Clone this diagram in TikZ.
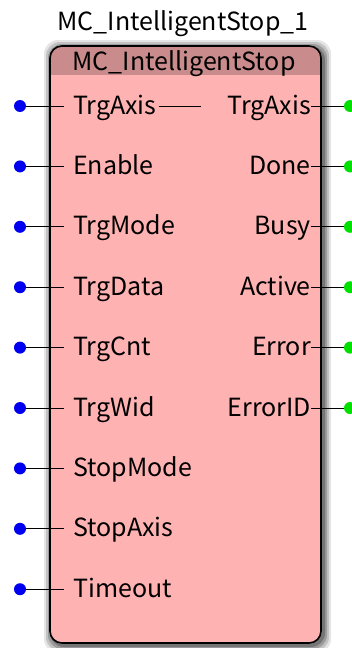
\documentclass[tikz,border=0pt]{standalone}
\usepackage{fontspec}
\setmainfont{Noto Sans CJK JP}
\definecolor{bodypink}{HTML}{FFB2B2}
\definecolor{headpink}{HTML}{C98B8B}
\definecolor{pinblue}{HTML}{0000F0}
\definecolor{pingreen}{HTML}{00E000}
\begin{document}
\begin{tikzpicture}[x=1pt,y=-1pt,
  lbl/.style={inner sep=0pt,font=\fontsize{25}{27}\selectfont},
  indot/.style={circle,fill=pinblue,inner sep=0pt,minimum size=12pt},
  outdot/.style={circle,fill=pingreen,inner sep=0pt,minimum size=12pt},
  wire/.style={line width=1pt,black}]
\useasboundingbox (0,0) rectangle (351,648);
% shadow
\foreach \d/\o in {8/0.10,6/0.15,4/0.2,2/0.25}{
  \fill[black,opacity=\o,rounded corners=14pt] (50-\d+2,46-\d+2) rectangle (321+\d+2,643+\d+2);
}
% body
\fill[bodypink,rounded corners=12pt] (50,46) rectangle (321,643);
\begin{scope}
\clip[rounded corners=12pt] (50,46) rectangle (321,643);
\fill[headpink] (50,46) rectangle (321,75);
\end{scope}
\draw[line width=1.6pt,rounded corners=12pt] (50,46) rectangle (321,643);
\node[lbl,anchor=base] (title) at (183,30) {MC\_IntelligentStop\_1};
\node[lbl,anchor=base] (head) at (184,70) {MC\_IntelligentStop};
% inputs
\foreach \n/\t [count=\i from 0] in {a/TrgAxis,b/Enable,c/TrgMode,d/TrgData,e/TrgCnt,f/TrgWid,g/StopMode,h/StopAxis,k/Timeout}{
  \pgfmathsetmacro{\yy}{106+60.4*\i}
  \node[indot] (id\n) at (20,\yy) {};
  \coordinate (ie\n) at (64,\yy);
  \node[lbl,anchor=base west] (il\n) at (73,\yy+8) {\t};
  \draw[wire] (id\n) -- (ie\n);
}
% outputs
\foreach \n/\t [count=\i from 0] in {a/TrgAxis,b/Done,c/Busy,d/Active,e/Error,f/ErrorID}{
  \pgfmathsetmacro{\yy}{106+60.4*\i}
  \node[lbl,anchor=base east] (ol\n) at (311,\yy+8) {\t};
  \node[outdot] (od\n) at (350,\yy) {};
  \draw[wire] (ol\n.east |- od\n) -- (od\n);
}
\coordinate (inout) at (201,106);
\draw[wire] (ila.east |- inout) ++(2,0) -- (inout);
\end{tikzpicture}
\end{document}
